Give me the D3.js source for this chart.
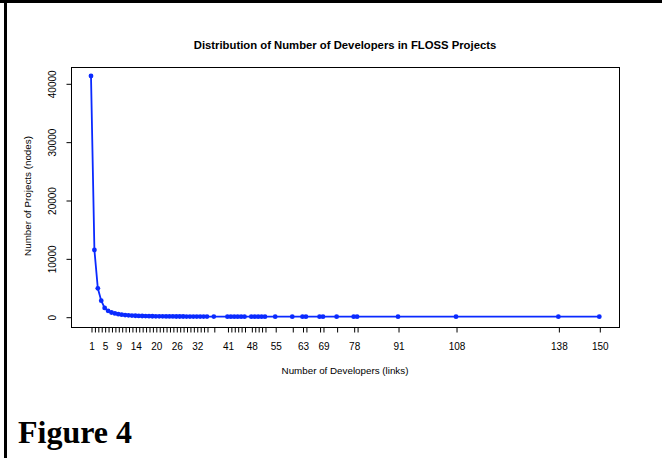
<!DOCTYPE html>
<html>
<head>
<meta charset="utf-8">
<script src="https://cdn.jsdelivr.net/npm/d3@7"></script>
<style>
  body { margin: 0; background: #fff; }
  svg { display: block; }
  text { font-family: "Liberation Sans", Arial, sans-serif; fill: #000; }
</style>
</head>
<body>
<svg width="662" height="458"></svg>
<script>
// number of developers per project (x) and number of projects (y)
const developers = [1, 2, 3, 4, 5, 6, 7, 8, 9, 10, 11, 12, 13, 14, 15, 16, 17, 18, 19, 20,
  21, 22, 23, 24, 25, 26, 27, 28, 29, 30, 31, 32, 33, 34, 35, 37,
  41, 42, 43, 44, 45, 46, 48, 49, 50, 51, 52, 55, 60, 63, 64, 68, 69, 73, 78, 79,
  91, 108, 138, 150];
const projects = [41250, 11430, 4870, 2740, 1500, 1000, 720, 560, 430, 340, 280, 230, 190, 165, 140, 120, 105, 92, 80, 72,
  64, 57, 50, 46, 42, 38, 34, 31, 28, 26, 23, 21, 19, 17, 15, 13,
  9, 8, 7, 7, 6, 6, 5, 5, 4, 4, 3, 3, 2, 2, 2, 1, 1, 1, 1, 1,
  1, 1, 1, 1];
const xLabels = [1, 5, 9, 14, 20, 26, 32, 41, 48, 55, 63, 69, 78, 91, 108, 138, 150];
const yTicks = [0, 10000, 20000, 30000, 40000];

const svg = d3.select("svg");
const font = "'Liberation Sans', Arial, sans-serif";

// page frame
svg.append("rect").attr("x", 0).attr("y", 0).attr("width", 662).attr("height", 3).attr("fill", "#000");
svg.append("rect").attr("x", 4).attr("y", 0).attr("width", 3).attr("height", 458).attr("fill", "#000");

const box = { left: 71, top: 67, right: 619, bottom: 327 };

const x = d3.scaleLinear().domain([1, 150]).range([91, 599.3]);
const y = d3.scaleLinear().domain([0, 40000]).range([316.7, 83.3]);

svg.append("rect")
  .attr("x", box.left + 0.5).attr("y", box.top + 0.5)
  .attr("width", box.right - box.left).attr("height", box.bottom - box.top)
  .attr("fill", "none").attr("stroke", "#000").attr("stroke-width", 1);

// x axis: tick at every observed value, labels only where they fit
const xAxis = d3.axisBottom(x)
  .tickValues(developers)
  .tickSize(5)
  .tickSizeOuter(0)
  .tickFormat(d => xLabels.includes(d) ? d : "");
const gx = svg.append("g")
  .attr("transform", `translate(0.5,${box.bottom + 0.5})`)
  .call(xAxis);
gx.select(".domain").remove();
gx.selectAll("text").attr("font-size", 10).attr("dy", "1.45em")
  .style("font-family", font);

const yAxis = d3.axisLeft(y)
  .tickValues(yTicks)
  .tickSize(5)
  .tickSizeOuter(0)
  .tickFormat(d3.format("d"));
const gy = svg.append("g")
  .attr("transform", `translate(${box.left + 0.5},0.5)`)
  .call(yAxis);
gy.select(".domain").remove();
gy.selectAll(".tick text")
  .attr("font-size", 10)
  .attr("transform", "rotate(-90)")
  .attr("x", 0).attr("y", -16)
  .attr("dy", 0)
  .attr("text-anchor", "middle")
  .style("font-family", font);

// titles
svg.append("text")
  .attr("x", (box.left + box.right) / 2).attr("y", 49)
  .attr("text-anchor", "middle").attr("font-size", 11.3).attr("font-weight", "bold")
  .text("Distribution of Number of Developers in FLOSS Projects");

svg.append("text")
  .attr("x", (box.left + box.right) / 2).attr("y", 374)
  .attr("text-anchor", "middle").attr("font-size", 9.8)
  .text("Number of Developers (links)");

svg.append("text")
  .attr("transform", `translate(31,${(box.top + box.bottom) / 2 - 1}) rotate(-90)`)
  .attr("text-anchor", "middle").attr("font-size", 9.8)
  .text("Number of Projects (nodes)");

// series
const pts = developers.map((d, i) => [d, projects[i]]);
const line = d3.line().x(d => x(d[0])).y(d => y(d[1]));
svg.append("path")
  .datum(pts)
  .attr("d", line)
  .attr("fill", "none")
  .attr("stroke", "#0a2aff")
  .attr("stroke-width", 1.8);

svg.selectAll("circle.pt")
  .data(pts)
  .enter().append("circle")
  .attr("class", "pt")
  .attr("cx", d => x(d[0])).attr("cy", d => y(d[1]))
  .attr("r", 2.4)
  .attr("fill", "#0a2aff");

svg.append("text")
  .attr("x", 18).attr("y", 443)
  .style("font-family", "'Liberation Serif', 'Times New Roman', serif")
  .attr("font-size", 32).attr("font-weight", "bold")
  .text("Figure 4");
</script>
</body>
</html>
